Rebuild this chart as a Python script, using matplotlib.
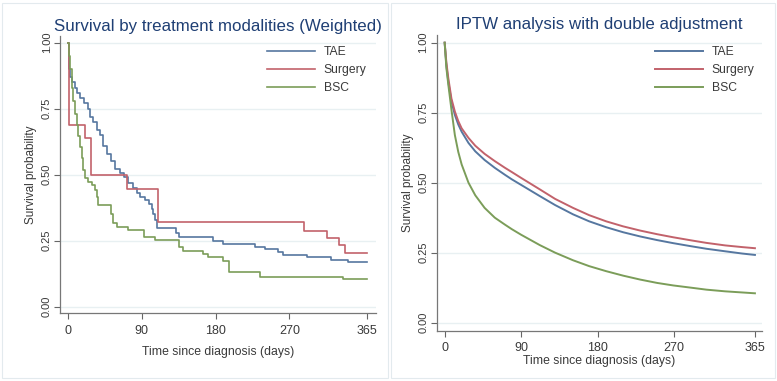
import matplotlib
matplotlib.use("Agg")
import matplotlib.pyplot as plt
from matplotlib.patches import Rectangle

plt.rcParams["font.family"] = ["Liberation Sans", "DejaVu Sans"]

# -- Data ----------------------------------------------------------------------

GROUPS = ["TAE", "Surgery", "BSC"]
COLORS = {"TAE": "#5677a0", "Surgery": "#c2626b", "BSC": "#7b9d59"}

# Weighted Kaplan-Meier steps (left panel): step times (days) and survival after step
TAE_T = [0, 1, 2, 5, 8, 11, 15, 20, 24, 27, 31, 35, 39, 43, 47, 52, 57, 63, 68, 73,
         79, 84, 88, 94, 99, 102, 104, 106, 108, 132, 135, 177, 189, 228, 240, 256,
         262, 291, 321, 342, 365]
TAE_S = [1.0, 0.90, 0.87, 0.85, 0.83, 0.81, 0.79, 0.77, 0.75, 0.72, 0.70, 0.67, 0.65,
         0.61, 0.58, 0.55, 0.52, 0.505, 0.49, 0.47, 0.45, 0.43, 0.415, 0.405, 0.39, 0.37,
         0.35, 0.33, 0.297, 0.28, 0.265, 0.25, 0.238, 0.227, 0.217, 0.208, 0.196, 0.187,
         0.177, 0.168, 0.168]

SURG_T = [0, 1, 21, 28, 72, 110, 288, 316, 330, 338, 365]
SURG_S = [1.0, 0.69, 0.64, 0.50, 0.445, 0.32, 0.288, 0.26, 0.232, 0.202, 0.202]

BSC_T = [0, 1, 2.4, 4.5, 6.5, 8.5, 10.6, 12.6, 14.6, 16.7, 18.7, 20.7, 24.8, 28.9, 33,
         35, 37, 53, 55, 60, 73.5, 93, 106, 135, 140.6, 165, 171, 188.6, 196, 234,
         335.7, 365]
BSC_S = [1.0, 0.95, 0.90, 0.83, 0.78, 0.73, 0.69, 0.645, 0.606, 0.562, 0.518, 0.486,
         0.473, 0.461, 0.442, 0.417, 0.385, 0.35, 0.316, 0.30, 0.29, 0.263, 0.253, 0.227,
         0.21, 0.20, 0.19, 0.174, 0.131, 0.1125, 0.105, 0.105]

# IPTW curves (right panel), read at these days
IPTW_T = [0, 2, 4.3, 8, 12, 16, 20, 28, 36, 47, 59, 71, 79, 90, 112, 130, 151, 170,
          190, 210, 230, 250, 269, 290, 308, 330, 350, 365]
IPTW_TAE = [1.0, 0.92, 0.86, 0.79, 0.742, 0.708, 0.682, 0.642, 0.612, 0.581, 0.553,
            0.528, 0.512, 0.492, 0.452, 0.42, 0.387, 0.362, 0.341, 0.323, 0.308, 0.295,
            0.284, 0.273, 0.264, 0.255, 0.247, 0.242]
IPTW_SURG = [1.0, 0.93, 0.873, 0.80, 0.754, 0.72, 0.694, 0.66, 0.632, 0.603, 0.577,
             0.553, 0.538, 0.517, 0.476, 0.442, 0.41, 0.384, 0.362, 0.344, 0.329, 0.316,
             0.305, 0.294, 0.285, 0.276, 0.27, 0.266]
IPTW_BSC = [1.0, 0.91, 0.85, 0.76, 0.67, 0.61, 0.565, 0.50, 0.455, 0.41, 0.375, 0.35,
            0.334, 0.314, 0.277, 0.25, 0.223, 0.202, 0.184, 0.168, 0.154, 0.142, 0.133,
            0.125, 0.118, 0.112, 0.108, 0.105]

X_TICKS = [0, 90, 180, 270, 365]
Y_TICKS = [0.0, 0.25, 0.5, 0.75, 1.0]

TITLE_COLOR = "#1f3f74"
TEXT_COLOR = "#3a3a3a"
GRID_COLOR = "#e8f0f2"


def style_axes(ax, title, xlim, ylim, xpad, xlabelpad):
    ax.set_xlim(*xlim)
    ax.set_ylim(*ylim)
    ax.set_xticks(X_TICKS)
    ax.set_yticks(Y_TICKS)
    ax.set_yticklabels([f"{v:.2f}" for v in Y_TICKS], rotation=90, va="center")
    ax.tick_params(axis="x", labelsize=9, colors="#666666", labelcolor=TEXT_COLOR,
                   length=4, width=0.8, pad=xpad)
    ax.tick_params(axis="y", labelsize=8, colors="#666666", labelcolor=TEXT_COLOR,
                   length=4, width=0.8, pad=2)
    for side in ["top", "right"]:
        ax.spines[side].set_visible(False)
    for side in ["left", "bottom"]:
        ax.spines[side].set_color("#777777")
        ax.spines[side].set_linewidth(0.9)
    ax.yaxis.grid(True, color=GRID_COLOR, linewidth=1.0)
    ax.set_axisbelow(True)
    ax.set_xlabel("Time since diagnosis (days)", fontsize=8.8, color=TEXT_COLOR,
                  labelpad=xlabelpad)
    ax.set_ylabel("Survival probability", fontsize=8.5, color=TEXT_COLOR, labelpad=3)
    ax.set_title(title, fontsize=12.2, color=TITLE_COLOR, pad=4)


fig = plt.figure(figsize=(7.77, 3.81), dpi=100)

# Panel frames
fig.patches.append(Rectangle((2 / 777, 3 / 381), 386 / 777, 375 / 381, transform=fig.transFigure,
                             fill=False, edgecolor="#e3eaee", linewidth=0.8))
fig.patches.append(Rectangle((391 / 777, 3 / 381), 384 / 777, 375 / 381, transform=fig.transFigure,
                             fill=False, edgecolor="#e3eaee", linewidth=0.8))

# -- Left: weighted KM ---------------------------------------------------------

ax1 = fig.add_axes([0.0772, 0.1785, 0.4063, 0.726])
ax1.step(TAE_T, TAE_S, where="post", color=COLORS["TAE"], lw=1.2, label="TAE")
ax1.step(SURG_T, SURG_S, where="post", color=COLORS["Surgery"], lw=1.2, label="Surgery")
ax1.step(BSC_T, BSC_S, where="post", color=COLORS["BSC"], lw=1.2, label="BSC")
style_axes(ax1, "Survival by treatment modalities (Weighted)", (-9.8, 375.2), (-0.024, 1.024),
           xpad=5, xlabelpad=6)
ax1.legend(loc="upper left", bbox_to_anchor=(0.655, 0.965), frameon=False, fontsize=8.7,
           handlelength=4.0, handletextpad=0.7, labelspacing=0.5, borderpad=0,
           borderaxespad=0, labelcolor=TEXT_COLOR)

# -- Right: IPTW with double adjustment -----------------------------------------

ax2 = fig.add_axes([0.562, 0.132, 0.419, 0.777])
ax2.plot(IPTW_T, IPTW_TAE, color=COLORS["TAE"], lw=1.4, label="TAE")
ax2.plot(IPTW_T, IPTW_SURG, color=COLORS["Surgery"], lw=1.4, label="Surgery")
ax2.plot(IPTW_T, IPTW_BSC, color=COLORS["BSC"], lw=1.4, label="BSC")
style_axes(ax2, "IPTW analysis with double adjustment", (-9.4, 373.6), (-0.0286, 1.0286),
           xpad=4, xlabelpad=1)
ax2.legend(loc="upper left", bbox_to_anchor=(0.670, 0.962), frameon=False, fontsize=8.7,
           handlelength=4.0, handletextpad=0.7, labelspacing=0.5, borderpad=0,
           borderaxespad=0, labelcolor=TEXT_COLOR)

fig.savefig("out.png", dpi=100)
